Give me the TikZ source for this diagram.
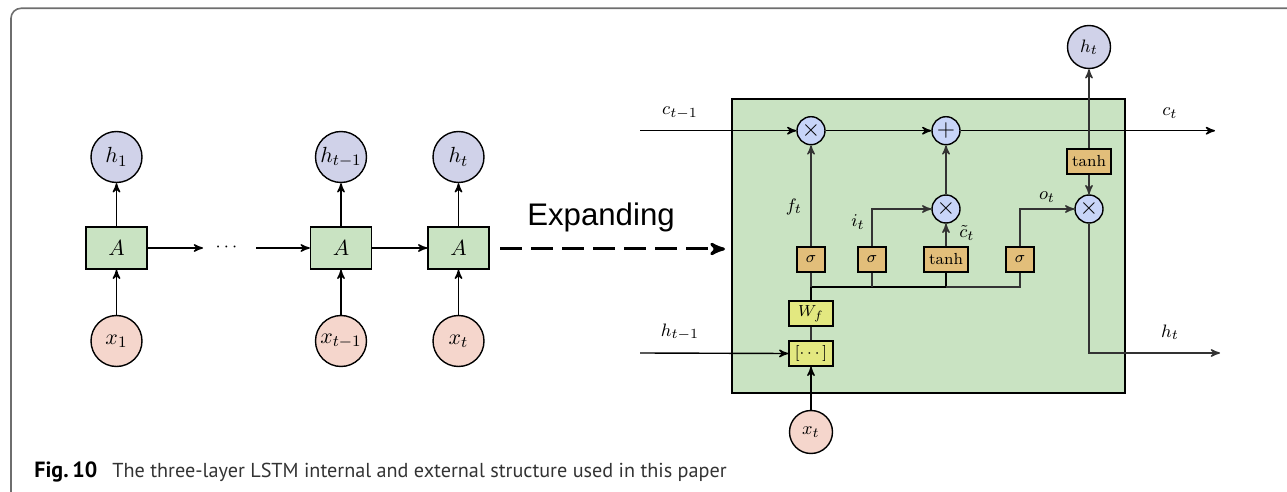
\documentclass[tikz,border=0pt]{standalone}
\usepackage{fontspec}
\newfontfamily\capfont{PT Sans}
\newfontfamily\arialfont{Liberation Sans}
\usepackage{amsmath}
\usetikzlibrary{arrows,calc,positioning}
\definecolor{hblue}{RGB}{208,210,233}
\definecolor{xpink}{RGB}{245,214,204}
\definecolor{cellgreen}{RGB}{201,227,194}
\definecolor{gateorange}{RGB}{226,190,122}
\definecolor{wyellow}{RGB}{227,232,128}
\definecolor{opblue}{RGB}{200,213,248}
\definecolor{framegray}{RGB}{110,110,110}

\begin{document}
\begin{tikzpicture}[x=0.5pt,y=-0.5pt,>=stealth',line width=0.7pt,
  cellbox/.style={draw,fill=cellgreen,minimum width=30.5pt,minimum height=21pt,inner sep=0pt,font=\fontsize{11}{13}\selectfont},
  hcirc/.style={draw,circle,fill=hblue,minimum size=25.5pt,inner sep=0pt,font=\fontsize{11}{13}\selectfont},
  xcirc/.style={draw,circle,fill=xpink,minimum size=25.5pt,inner sep=0pt,font=\fontsize{11}{13}\selectfont},
  gatebox/.style={draw,fill=gateorange,minimum width=14pt,minimum height=12.5pt,inner sep=0pt,font=\fontsize{8}{9}\selectfont},
  wbox/.style={draw,fill=wyellow,minimum width=22pt,minimum height=12.5pt,inner sep=0pt,font=\fontsize{8}{9}\selectfont},
  opcirc/.style={draw,circle,fill=opblue,minimum size=14pt,inner sep=0pt,font=\fontsize{12}{12}\selectfont},
  lbl/.style={font=\fontsize{9.5}{11}\selectfont},
  inner/.style={draw=black!80}]
\useasboundingbox (0,0) rectangle (1287,492);
\draw[framegray,line width=0.8pt,rounded corners=5pt] (11,492) -- (11,8.3) -- (1287,8.3);

% unrolled chain
\node[cellbox] (a1) at (116.5,248) {$A$};
\node[cellbox] (a2) at (341,248) {$A$};
\node[cellbox] (a3) at (458.5,248) {$A$};
\node[hcirc] (h1) at (116.5,157) {$h_1$};
\node[hcirc] (h2) at (341,157) {$h_{t-1}$};
\node[hcirc] (h3) at (458.5,157) {$h_t$};
\node[xcirc] (x1) at (116.5,341) {$x_1$};
\node[xcirc] (x2) at (341,341) {$x_{t-1}$};
\node[xcirc] (x3) at (458.5,341) {$x_t$};
\node[anchor=base,font=\fontsize{9.5}{11}\selectfont] (dots) at (228,252) {$\cdots$};
\coordinate (d1) at (203,248);
\coordinate (d2) at (256,248);
\foreach \n in {1,2,3}{
  \draw[->] (a\n.north) -- (h\n.south);
  \draw[->] (x\n.north) -- (a\n.south);
}
\draw[->] (a1.east) -- (d1);
\draw[->] (d2) -- (a2.west);
\draw[->] (a2.east) -- (a3.west);

% expanding arrow
\node[anchor=base,font=\arialfont\fontsize{15.6}{18}\selectfont] (exp) at (601,226) {Expanding};
\coordinate (e1) at (500,249);
\coordinate (e2) at (725,249);
\draw[->,line width=1.5pt,dash pattern=on 11pt off 4.5pt] (e1) -- (e2);

% LSTM cell
\draw[fill=cellgreen] (732,99) rectangle (1125,393);
\node[opcirc] (mulf) at (811,130.7) {$\times$};
\node[opcirc] (add) at (946,130.7) {$+$};
\node[opcirc] (muli) at (946,209) {$\times$};
\node[opcirc] (mulo) at (1089,209) {$\times$};
\node[gatebox] (sigf) at (811,259.5) {$\sigma$};
\node[gatebox] (sigi) at (872,259.5) {$\sigma$};
\node[gatebox,minimum width=22pt] (tanhc) at (946,259.5) {$\tanh$};
\node[gatebox] (sigo) at (1020,259.5) {$\sigma$};
\node[gatebox,minimum width=22pt] (tanho) at (1089,161.5) {$\tanh$};
\node[wbox] (wf) at (811,313.5) {$W_f$};
\node[wbox] (cat) at (811,353.5) {$[\cdots]$};
\node[hcirc,minimum size=21.5pt,font=\fontsize{9.5}{11}\selectfont] (htop) at (1089,47) {$h_t$};
\node[xcirc,minimum size=21.5pt,font=\fontsize{9.5}{11}\selectfont] (xt) at (811,432) {$x_t$};

\coordinate (cin) at (640,130.7);
\coordinate (cout) at (1215,130.7);
\coordinate (hin) at (640,353);
\coordinate (hout) at (1220,353);
\coordinate (busl) at (811,287);
\coordinate (busm) at (946,287);

\draw[->] (cin) -- (mulf.west);
\draw[->] (mulf.east) -- (add.west);
\draw[->] (add.east) -- (cout);
\draw[->,inner] (sigf.north) -- (mulf.south);
\draw[->,inner] (sigi.north) |- (muli.west);
\draw[->,inner] (tanhc.north) -- (muli.south);
\draw[->,inner] (muli.north) -- (add.south);
\draw[->,inner] (sigo.north) |- (mulo.west);
\draw[->,inner] (tanho.north) -- (htop.south);
\draw[->,inner] (tanho.south) -- (mulo.north);
\draw[->,inner] (mulo.south) |- (hout);
\draw[->] (hin) -- (cat.west);
\draw[->] (xt.north) -- (cat.south);
\draw[inner] (cat.north) -- (wf.south);
\draw[line width=1.4pt] (wf.north) -- (busl) -- (busm) -- (tanhc.south);
\draw[inner] (sigf.south) -- (busl);
\draw[inner] (sigi.south) -- (sigi.south |- busl);
\draw[inner] (busm) -| (sigo.south);

\node[lbl] (lc1) at (680,113) {$c_{t-1}$};
\node[lbl] (lc2) at (1170,113) {$c_t$};
\node[lbl] (lh1) at (680,332) {$h_{t-1}$};
\node[lbl] (lh2) at (1170,332) {$h_t$};
\node[lbl] (lf) at (794,207) {$f_t$};
\node[lbl] (li) at (858,222) {$i_t$};
\node[lbl] (lct) at (967,233) {$\tilde{c}_t$};
\node[lbl] (lo) at (1047,197) {$o_t$};

% caption
\node[anchor=base west,font=\capfont\fontsize{10.1}{12}\selectfont] (cap) at (27,477)
  {{\fontsize{11}{12}\selectfont\bfseries Fig.\,10}\hspace{0.75em}\textcolor{black!80}{The three-layer LSTM internal and external structure used in this paper}};
\end{tikzpicture}
\end{document}
